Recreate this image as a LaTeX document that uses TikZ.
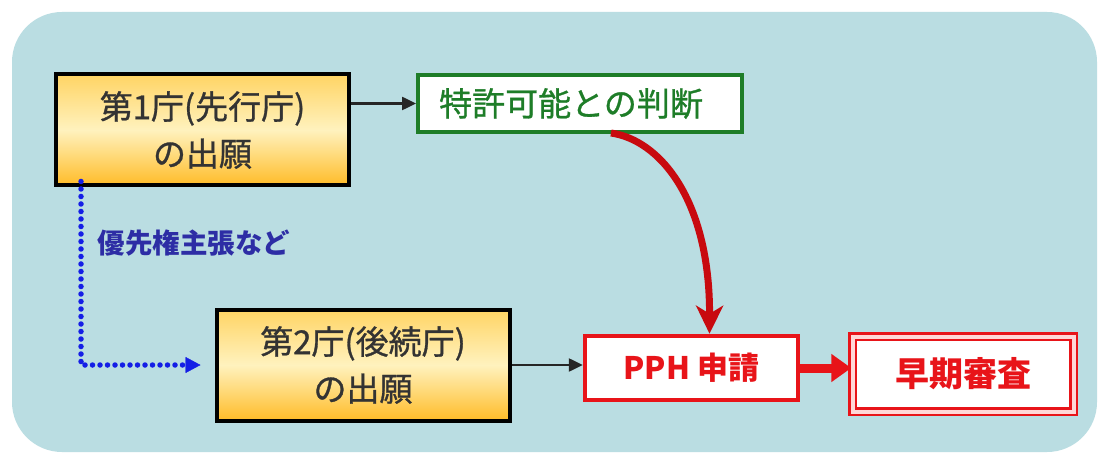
\documentclass[tikz,border=0pt]{standalone}
\usepackage{fontspec}
\setmainfont{Noto Sans CJK JP}
\newfontfamily\medcjk[FakeBold=0.9]{Noto Sans CJK JP}
\usetikzlibrary{arrows.meta}
\definecolor{bgblue}{RGB}{186,221,226}
\definecolor{boxtop}{RGB}{255,212,100}
\definecolor{boxmid}{RGB}{255,242,190}
\definecolor{boxbot}{RGB}{255,188,40}
\definecolor{judgegreen}{RGB}{30,125,40}
\definecolor{pphred}{RGB}{232,20,25}
\definecolor{curvered}{RGB}{200,10,15}
\definecolor{dotblue}{RGB}{20,30,230}
\definecolor{labelblue}{RGB}{45,45,165}
\definecolor{gappink}{RGB}{255,215,215}
\tikzset{
  officebox/.style={draw=black, line width=4pt, top color=boxtop, bottom color=boxbot, middle color=boxmid,
    minimum width=293pt, minimum height=111pt, align=center, font=\medcjk\fontsize{33pt}{47pt}\selectfont, text=black!80},
  judgebox/.style={draw=judgegreen, line width=4pt, fill=white, minimum width=324pt, minimum height=57pt,
    text=judgegreen, font=\medcjk\fontsize{33pt}{36pt}\selectfont},
  pphbox/.style={draw=pphred, line width=4.5pt, fill=white, minimum width=213pt, minimum height=64pt,
    text=pphred, font=\bfseries\fontsize{31pt}{34pt}\selectfont},
  fastbox/.style={draw=pphred, line width=2.5pt, double=gappink, double distance=4pt, fill=white,
    minimum width=221pt, minimum height=75pt, text=pphred, font=\bfseries\fontsize{34pt}{36pt}\selectfont},
  thinarrow/.style={draw=black!85, line width=2.5pt, -{Triangle[length=14pt,width=13pt]}},
}
\begin{document}
\begin{tikzpicture}[x=1pt,y=-1pt]
\useasboundingbox (0,0) rectangle (1100,454);
\fill[white] (0,0) rectangle (1100,454);
\fill[bgblue, rounded corners=50pt] (12,12) rectangle (1097,452);

\node[officebox] (box1) at (202.5,130) {第1庁(先行庁)\\の出願};
\node[judgebox] (judge) at (580,103.5) {\hspace*{-18pt}特許可能との判断};
\node[officebox] (box2) at (363,365) {第2庁(後続庁)\\の出願};
\node[pphbox] (pph) at (691.5,368) {PPH 申請};
\node[fastbox] (fast) at (963,374) {早期審査};

\draw[thinarrow] (box1.east |- judge.west) -- (judge.west);
\draw[thinarrow] (box2.east) -- (box2.east -| pph.west);
\draw[pphred, line width=9pt, -{Triangle[length=20pt,width=27pt]}] (pph.east) -- (pph.east -| fast.west);

\coordinate (cstart) at ([xshift=31pt,yshift=1pt]judge.south);
\coordinate (cend) at ([xshift=18pt]pph.north);
\draw[curvered, line width=7pt, -{Stealth[length=28pt,width=27pt,inset=8pt]}]
  (cstart) .. controls (660,140) and (710,200) .. (cend);

\coordinate (dstart) at ([xshift=27pt,yshift=6pt]box1.south west);
\coordinate (dcorner) at (dstart |- box2.west);
\coordinate (dtip) at ([xshift=-14pt]box2.west);
\draw[dotblue, line width=5.5pt, line cap=round, dash pattern=on 0pt off 7.5pt]
  (dstart) -- (dcorner) -- ([xshift=-10pt]dtip);
\draw[dotblue, -{Triangle[length=15pt,width=16pt]}] ([xshift=-6pt]dtip) -- (dtip);
\node[anchor=west, text=labelblue, font=\bfseries\fontsize{27.5pt}{30pt}\selectfont] (prio) at (94,243) {優先権主張など};
\end{tikzpicture}
\end{document}
